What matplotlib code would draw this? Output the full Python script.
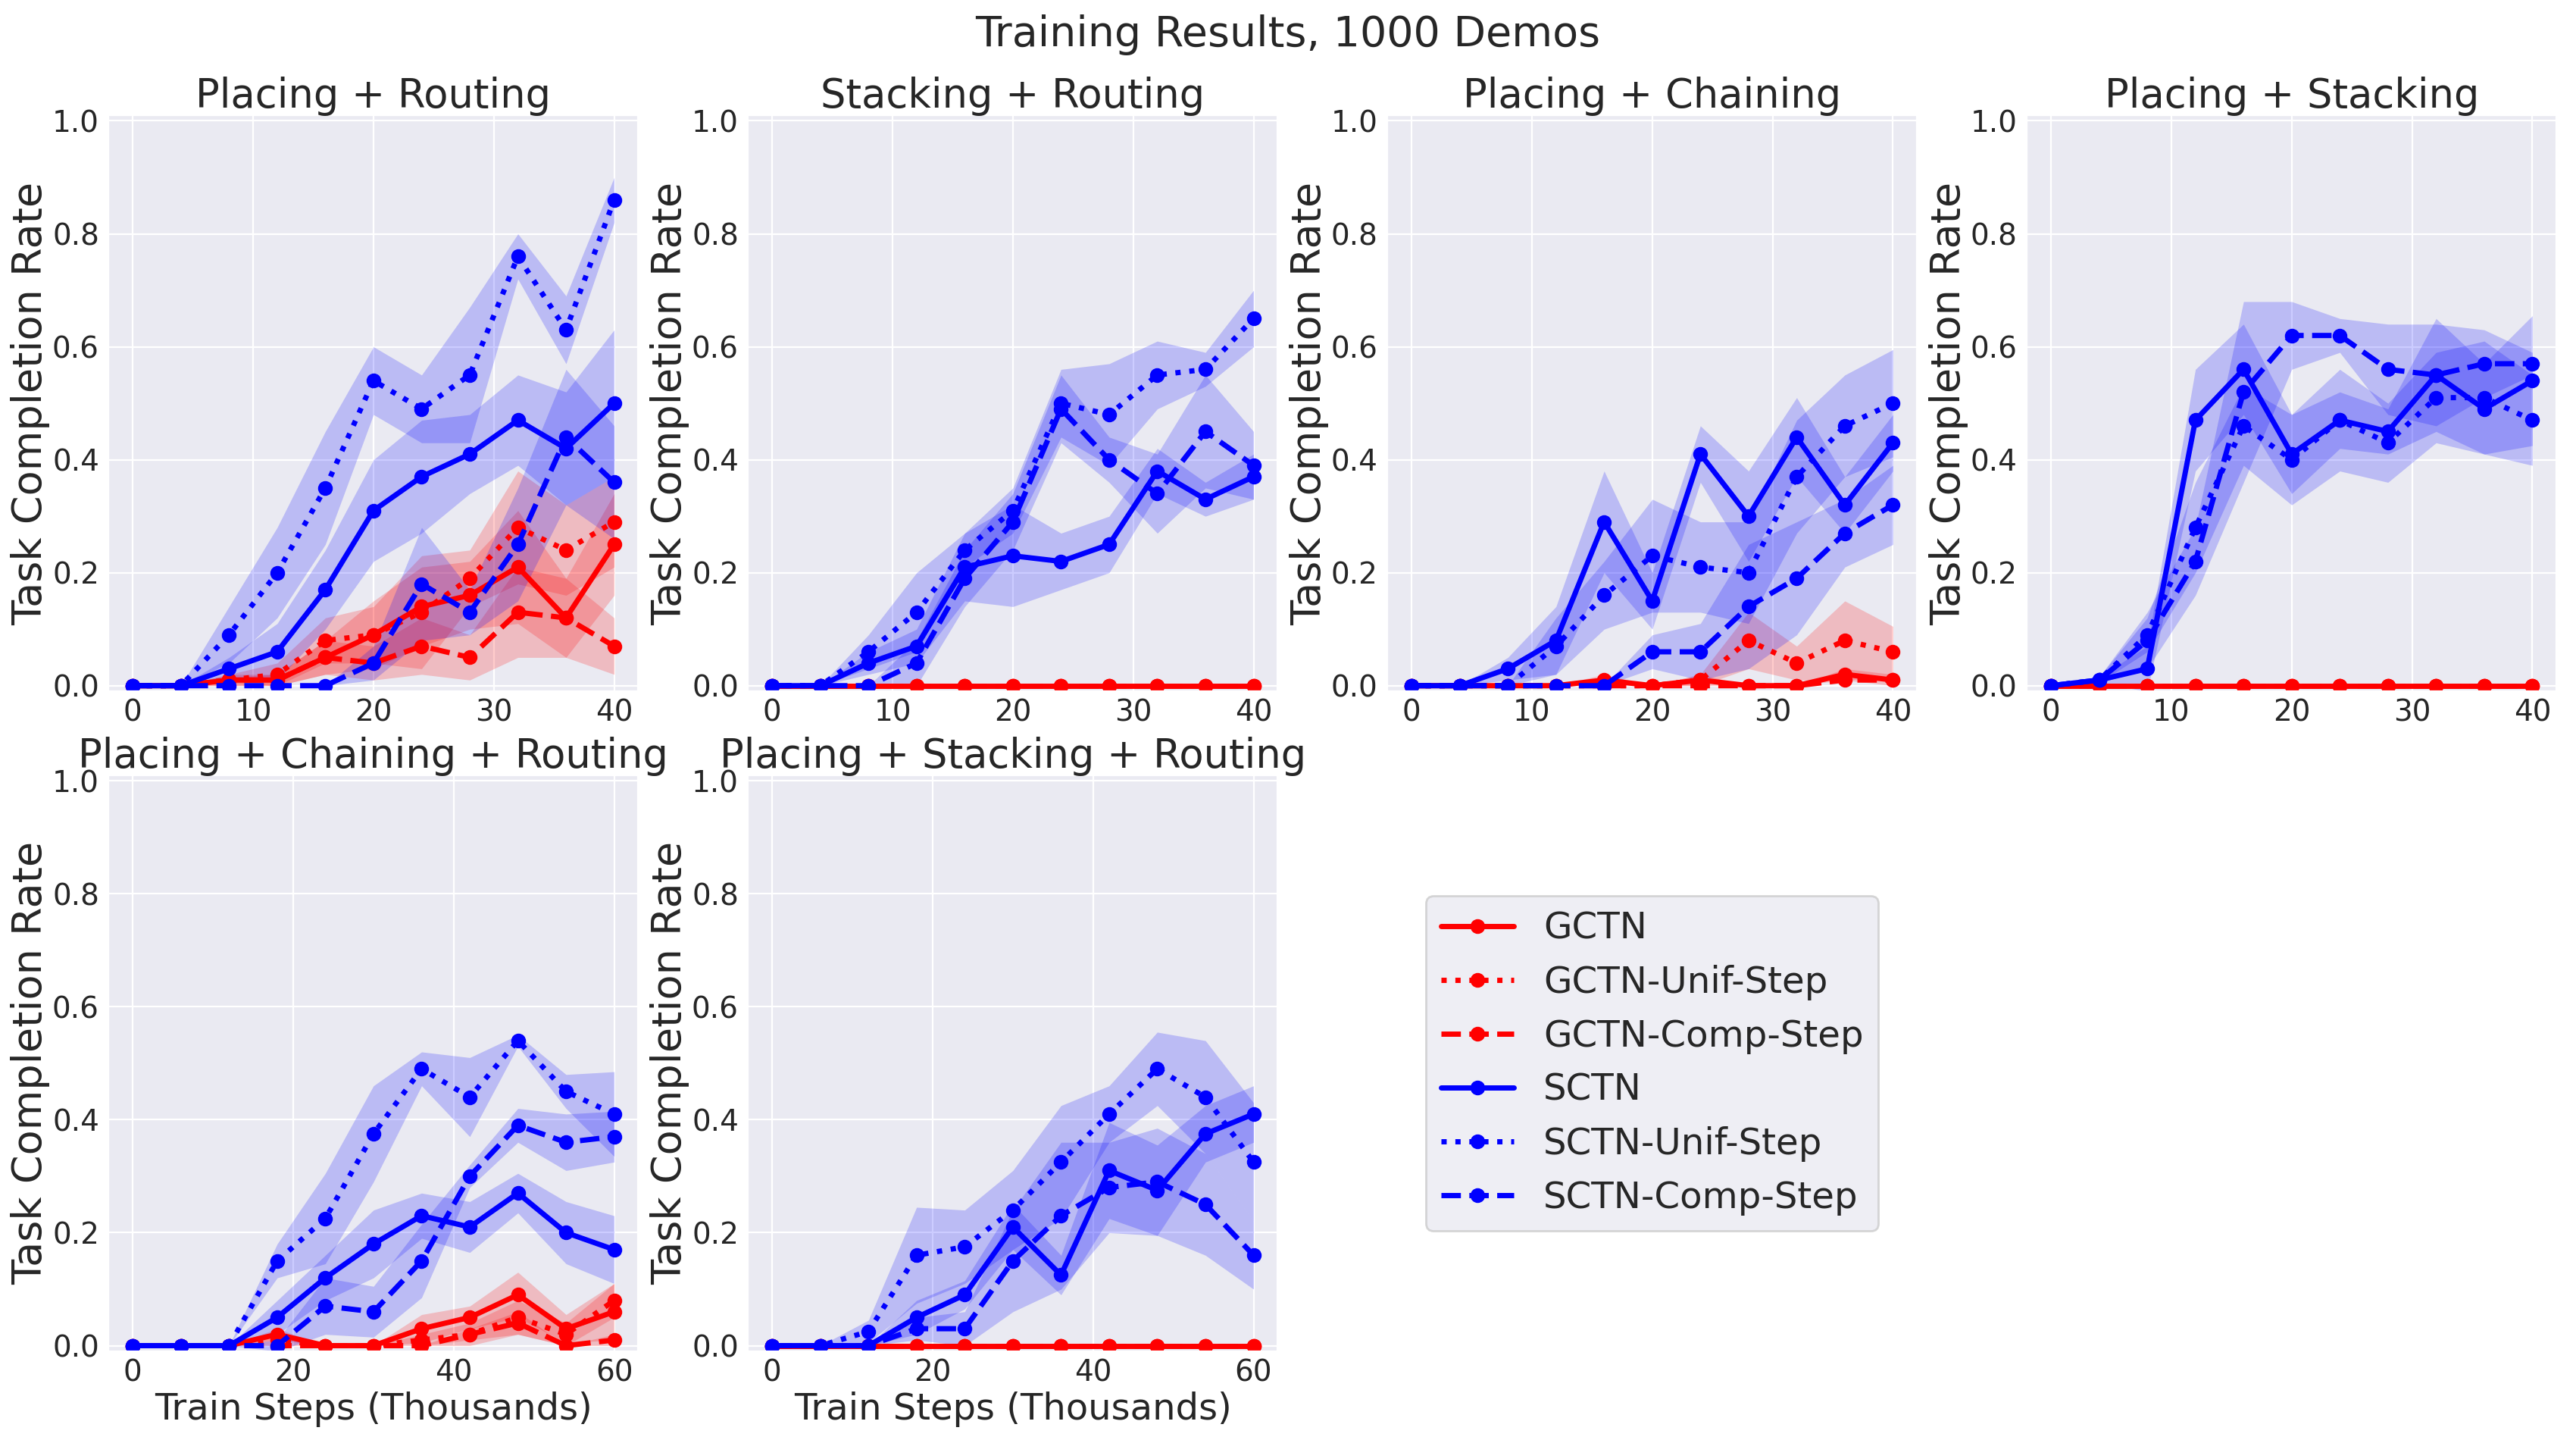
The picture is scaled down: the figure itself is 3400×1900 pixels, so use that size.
import matplotlib
matplotlib.use("Agg")
import matplotlib.pyplot as plt
import seaborn as sns
import numpy as np

sns.set_style("darkgrid")
plt.rcParams['font.family'] = ['DejaVu Sans']

# series order: GCTN, GCTN-Unif-Step, GCTN-Comp-Step, SCTN, SCTN-Unif-Step, SCTN-Comp-Step
labels = ['GCTN', 'GCTN-Unif-Step', 'GCTN-Comp-Step', 'SCTN', 'SCTN-Unif-Step', 'SCTN-Comp-Step']
colors = ['red', 'red', 'red', 'blue', 'blue', 'blue']
styles = ['-', ':', '--', '-', ':', '--']

steps_short = [0, 4, 8, 12, 16, 20, 24, 28, 32, 36, 40]
steps_long = [0, 6, 12, 18, 24, 30, 36, 42, 48, 54, 60]
zeros = [0, 0, 0, 0, 0, 0, 0, 0, 0, 0, 0]

titles = ['Placing + Routing', 'Stacking + Routing', 'Placing + Chaining', 'Placing + Stacking',
          'Placing + Chaining + Routing', 'Placing + Stacking + Routing']

# Placing + Routing
pr_mean = [
    [0, 0, 0.01, 0.01, 0.05, 0.09, 0.14, 0.16, 0.21, 0.12, 0.25],
    [0, 0, 0.01, 0.02, 0.08, 0.09, 0.13, 0.19, 0.28, 0.24, 0.29],
    [0, 0, 0.01, 0.01, 0.05, 0.04, 0.07, 0.05, 0.13, 0.12, 0.07],
    [0, 0, 0.03, 0.06, 0.17, 0.31, 0.37, 0.41, 0.47, 0.42, 0.50],
    [0, 0, 0.09, 0.20, 0.35, 0.54, 0.49, 0.55, 0.76, 0.63, 0.86],
    [0, 0, 0, 0, 0, 0.04, 0.18, 0.13, 0.25, 0.44, 0.36],
]
pr_sd = [
    [0, 0, 0.005, 0.01, 0.03, 0.06, 0.07, 0.06, 0.10, 0.07, 0.09],
    [0, 0, 0.01, 0.02, 0.04, 0.05, 0.10, 0.05, 0.10, 0.08, 0.08],
    [0, 0, 0.01, 0.01, 0.03, 0.03, 0.05, 0.04, 0.08, 0.07, 0.05],
    [0, 0, 0.02, 0.05, 0.07, 0.09, 0.10, 0.07, 0.08, 0.10, 0.13],
    [0, 0, 0.05, 0.08, 0.10, 0.06, 0.06, 0.12, 0.04, 0.06, 0.04],
    [0, 0, 0, 0, 0, 0.03, 0.10, 0.04, 0.10, 0.12, 0.10],
]

# Stacking + Routing
sr_mean = [
    zeros, zeros, zeros,
    [0, 0, 0.04, 0.07, 0.21, 0.23, 0.22, 0.25, 0.38, 0.33, 0.37],
    [0, 0, 0.06, 0.13, 0.24, 0.31, 0.50, 0.48, 0.55, 0.56, 0.65],
    [0, 0, 0, 0.04, 0.19, 0.29, 0.49, 0.40, 0.34, 0.45, 0.39],
]
sr_sd = [
    zeros, zeros, zeros,
    [0, 0, 0.02, 0.03, 0.06, 0.09, 0.05, 0.05, 0.04, 0.03, 0.04],
    [0, 0, 0.03, 0.07, 0.03, 0.04, 0.06, 0.09, 0.06, 0.03, 0.05],
    [0, 0, 0, 0.04, 0.05, 0.05, 0.06, 0.04, 0.07, 0.10, 0.06],
]

# Placing + Chaining
pc_mean = [
    [0, 0, 0, 0, 0.01, 0, 0.01, 0, 0, 0.02, 0.01],
    [0, 0, 0, 0, 0, 0, 0.01, 0.08, 0.04, 0.08, 0.06],
    [0, 0, 0, 0, 0, 0, 0, 0, 0, 0.01, 0.01],
    [0, 0, 0.03, 0.08, 0.29, 0.15, 0.41, 0.30, 0.44, 0.32, 0.43],
    [0, 0, 0, 0.07, 0.16, 0.23, 0.21, 0.20, 0.37, 0.46, 0.50],
    [0, 0, 0, 0, 0, 0.06, 0.06, 0.14, 0.19, 0.27, 0.32],
]
pc_sd = [
    [0, 0, 0, 0, 0.01, 0, 0.01, 0, 0, 0.01, 0.01],
    [0, 0, 0, 0, 0, 0, 0.01, 0.05, 0.03, 0.07, 0.045],
    zeros,
    [0, 0, 0.02, 0.06, 0.09, 0.05, 0.05, 0.08, 0.07, 0.05, 0.05],
    [0, 0, 0, 0.05, 0.06, 0.10, 0.08, 0.09, 0.10, 0.09, 0.095],
    [0, 0, 0, 0, 0, 0.03, 0.05, 0.11, 0.10, 0.06, 0.07],
]

# Placing + Stacking
ps_mean = [
    zeros, zeros, zeros,
    [0, 0.01, 0.03, 0.47, 0.56, 0.41, 0.47, 0.45, 0.55, 0.49, 0.54],
    [0, 0.01, 0.09, 0.28, 0.46, 0.40, 0.47, 0.43, 0.51, 0.51, 0.47],
    [0, 0.01, 0.08, 0.22, 0.52, 0.62, 0.62, 0.56, 0.55, 0.57, 0.57],
]
ps_sd = [
    zeros, zeros, zeros,
    [0, 0.005, 0.04, 0.09, 0.08, 0.07, 0.05, 0.04, 0.10, 0.08, 0.115],
    [0, 0.005, 0.03, 0.08, 0.07, 0.08, 0.09, 0.07, 0.08, 0.10, 0.08],
    [0, 0.005, 0.05, 0.06, 0.16, 0.06, 0.03, 0.08, 0.09, 0.06, 0.02],
]

# Placing + Chaining + Routing
pcr_mean = [
    [0, 0, 0, 0.02, 0, 0, 0.03, 0.05, 0.09, 0.03, 0.06],
    [0, 0, 0, 0.01, 0, 0, 0.01, 0.02, 0.05, 0.02, 0.08],
    [0, 0, 0, 0, 0, 0, 0, 0.02, 0.04, 0, 0.01],
    [0, 0, 0, 0.05, 0.12, 0.18, 0.23, 0.21, 0.27, 0.20, 0.17],
    [0, 0, 0, 0.15, 0.225, 0.375, 0.49, 0.44, 0.54, 0.45, 0.41],
    [0, 0, 0, 0, 0.07, 0.06, 0.15, 0.30, 0.39, 0.36, 0.37],
]
pcr_sd = [
    [0, 0, 0, 0.01, 0, 0, 0.025, 0.02, 0.04, 0.025, 0.05],
    [0, 0, 0, 0.01, 0, 0, 0.01, 0.02, 0.03, 0.02, 0.03],
    [0, 0, 0, 0, 0, 0, 0, 0.01, 0.02, 0, 0.01],
    [0, 0, 0, 0.03, 0.04, 0.06, 0.04, 0.045, 0.035, 0.055, 0.06],
    [0, 0, 0, 0.03, 0.08, 0.085, 0.03, 0.07, 0.01, 0.03, 0.075],
    [0, 0, 0, 0.01, 0.05, 0.045, 0.065, 0.02, 0.03, 0.05, 0.045],
]

# Placing + Stacking + Routing
psr_mean = [
    zeros, zeros, zeros,
    [0, 0, 0, 0.05, 0.09, 0.21, 0.125, 0.31, 0.275, 0.375, 0.41],
    [0, 0, 0.025, 0.16, 0.175, 0.24, 0.325, 0.41, 0.49, 0.44, 0.325],
    [0, 0, 0, 0.03, 0.03, 0.15, 0.23, 0.28, 0.29, 0.25, 0.16],
]
psr_sd = [
    zeros, zeros, zeros,
    [0, 0, 0, 0.03, 0.025, 0.04, 0.035, 0.085, 0.08, 0.05, 0.05],
    [0, 0, 0.02, 0.085, 0.065, 0.07, 0.10, 0.05, 0.065, 0.10, 0.105],
    [0, 0, 0, 0.02, 0.03, 0.09, 0.13, 0.08, 0.095, 0.09, 0.06],
]

panels = [
    (steps_short, pr_mean, pr_sd),
    (steps_short, sr_mean, sr_sd),
    (steps_short, pc_mean, pc_sd),
    (steps_short, ps_mean, ps_sd),
    (steps_long, pcr_mean, pcr_sd),
    (steps_long, psr_mean, psr_sd),
]

fig, axs = plt.subplots(2, 4, figsize=(17, 9.5), dpi=200)
fig.subplots_adjust(left=0.0422, right=0.9924, top=0.92, bottom=0.0616, wspace=0.2075, hspace=0.1455)
fig.suptitle('Training Results, 1000 Demos', fontsize=20, y=0.99)

ax_list = [axs[0, 0], axs[0, 1], axs[0, 2], axs[0, 3], axs[1, 0], axs[1, 1]]
for i, (ax, (x, means, sds)) in enumerate(zip(ax_list, panels)):
    x = np.array(x)
    for m, s, c, ls, lab in zip(means, sds, colors, styles, labels):
        m = np.array(m)
        s = np.array(s)
        ax.plot(x, m, color=c, linestyle=ls, marker='o', lw=2.5, ms=6, label=lab)
        ax.fill_between(x, m - s, m + s, color=c, alpha=0.2, lw=0)
    ax.set_title(titles[i], fontsize=19, pad=3.5)
    ax.set_ylim(-0.01, 1.01)
    ax.set_yticks([0, 0.2, 0.4, 0.6, 0.8, 1.0])
    ax.set_ylabel('Task Completion Rate', fontsize=19.5, labelpad=1)
    ax.tick_params(axis='x', labelsize=14, length=0, pad=3.3)
    ax.tick_params(axis='y', labelsize=14, length=0, pad=4.5)
    if i >= 4:
        ax.set_xlabel('Train Steps (Thousands)', fontsize=17.3, labelpad=2)

handles, labs = ax_list[0].get_legend_handles_labels()
axs[1, 2].legend(handles, labs, loc='center', fontsize=17.4)
axs[1, 2].axis('off')
axs[1, 3].axis('off')

plt.savefig('out.png')
